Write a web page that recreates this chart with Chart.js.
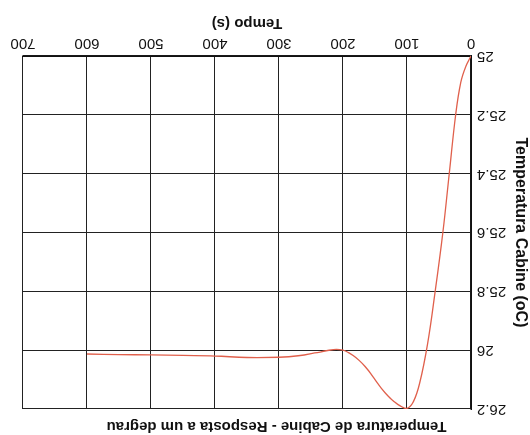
<!DOCTYPE html>
<html>
<head>
<meta charset="utf-8">
<script src="https://cdn.jsdelivr.net/npm/chart.js@4"></script>
<style>
html,body{margin:0;padding:0;background:#fff;}
/* the reference is printed upside down, so the whole chart is turned 180 degrees */
#chart{display:block;transform:rotate(180deg);}
</style>
</head>
<body>
<canvas id="chart" width="530" height="435"></canvas>
<script>
// values
const timeS = [0, 8, 16, 24, 34, 44, 56, 68, 80, 90, 100, 110, 120, 130, 140, 150, 160, 170, 180, 190, 200, 215, 240, 270, 300, 350, 400, 450, 500, 550, 600];
const tempC = [25.0, 25.035, 25.09, 25.2, 25.4, 25.6, 25.8, 25.98, 26.11, 26.175, 26.198, 26.19, 26.175, 26.155, 26.13, 26.1, 26.07, 26.045, 26.025, 26.01, 26.0, 25.998, 26.008, 26.019, 26.024, 26.025, 26.02, 26.018, 26.016, 26.015, 26.013];
const xTicks = [0, 100, 200, 300, 400, 500, 600, 700];
const yTicks = [25, 25.2, 25.4, 25.6, 25.8, 26, 26.2];

const points = timeS.map((t, i) => ({x: t, y: tempC[i]}));
const family = "'Liberation Sans', Arial, sans-serif";

new Chart(document.getElementById('chart'), {
  type: 'scatter',
  data: {
    datasets: [{
      data: points,
      showLine: true,
      borderColor: '#e0604c',
      borderWidth: 1.3,
      pointRadius: 0,
      tension: 0.4
    }]
  },
  options: {
    responsive: false,
    animation: false,
    layout: {padding: {left: 0, right: 23, top: 0, bottom: 12}},
    plugins: {
      legend: {display: false},
      tooltip: {enabled: false},
      title: {
        display: true,
        text: 'Temperatura de Cabine - Resposta a um degrau',
        color: '#111',
        font: {family: family, size: 15, weight: 'bold'},
        padding: {top: 0, bottom: 8}
      }
    },
    scales: {
      x: {
        type: 'linear',
        min: 0, max: 700,
        afterBuildTicks: s => { s.ticks = xTicks.map(v => ({value: v})); },
        afterFit: s => { s.height = 44; },
        ticks: {color: '#111', font: {family: family, size: 15}, padding: 4},
        grid: {color: '#222', lineWidth: 1, drawTicks: false},
        border: {color: '#111', width: 1.5},
        title: {display: true, text: 'Tempo (s)', color: '#111',
          font: {family: family, size: 15, weight: 'bold'}, padding: 2}
      },
      y: {
        min: 25, max: 26.2,
        afterBuildTicks: s => { s.ticks = yTicks.map(v => ({value: v})); },
        afterFit: s => { s.width = 59; },
        ticks: {color: '#111', font: {family: family, size: 15}, padding: 6,
          callback: v => String(+v.toFixed(1))},
        grid: {color: '#222', lineWidth: 1, drawTicks: false},
        border: {color: '#111', width: 1.5},
        title: {display: true, text: 'Temperatura Cabine (oC)', color: '#111',
          font: {family: family, size: 16, weight: 'bold'}, padding: 0}
      }
    }
  }
});
</script>
</body>
</html>
